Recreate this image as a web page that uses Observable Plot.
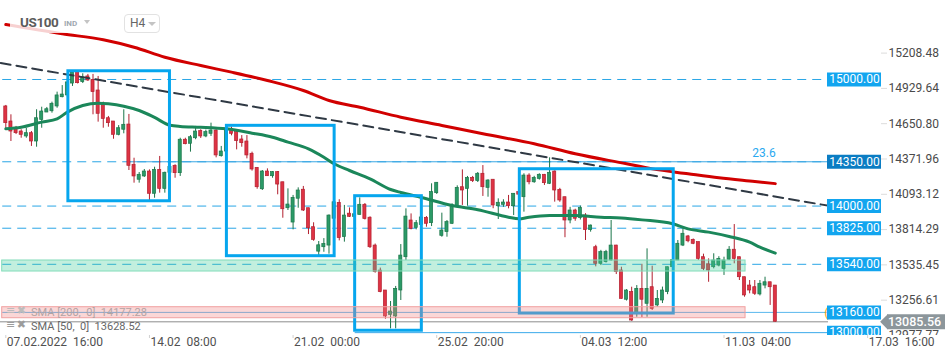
<!DOCTYPE html>
<html><head><meta charset="utf-8">
<script src="https://cdn.jsdelivr.net/npm/d3@7"></script>
<script src="https://cdn.jsdelivr.net/npm/@observablehq/plot@0.6"></script>
<style>
body{margin:0;background:#fff;font-family:Roboto,sans-serif;}
#wrap{position:relative;width:950px;height:360px;overflow:hidden;background:#fff;}
#wrap svg text{white-space:pre;}
.ov{position:absolute;font-family:Roboto,sans-serif;white-space:pre;}
.tri{position:absolute;width:0;height:0;border-left:4px solid transparent;border-right:4px solid transparent;border-top:4px solid #c4c4c4;}
</style></head>
<body><div id="wrap"></div>
<script>
// ---- candle data (H4, index 0 = 07.02.2022 16:00) ----
const open = [14787,14668,14615,14589,14550,14576,14510,14681,14739,14749,
14787,14860,14874,14968,15058,14979,15024,14997,14913,14800,
14694,14668,14563,14603,14644,14326,14208,14234,14273,14097,
14286,14136,14263,14318,14260,14524,14492,14536,14592,14550,
14571,14597,14394,14431,14610,14584,14526,14510,14413,14302,
14133,14273,14236,14268,14188,13983,13870,14058,14129,13983,
13833,13640,13675,13688,13900,14025,13755,13940,13915,13930,
14010,13908,13688,13490,13333,13140,13128,13333,13596,13886,
13828,13850,13907,13865,14102,13765,13794,13860,14000,14149,
14136,14223,14197,14255,14144,14208,13999,14010,14028,13999,
14110,14070,14241,14188,14215,14247,14176,14273,14128,14070,
13886,13965,13905,13925,13810,13675,13544,13557,13570,13688,
13491,13260,13320,13149,13346,13228,13359,13215,13254,13320,
13517,13570,13688,13760,13733,13715,13596,13540,13517,13530,
13504,13576,13655,13596,13438,13372,13359,13302,13372,13398,
13372];
const high = [14795,14721,14629,14603,14613,14589,14761,14781,14779,14821,
14900,14952,15008,15071,15071,15045,15040,15040,15024,14821,
14708,14668,14636,14761,14724,14378,14265,14289,14286,14307,
14392,14268,14330,14326,14536,14536,14557,14629,14603,14600,
14655,14603,14471,14640,14624,14590,14557,14557,14426,14302,
14281,14294,14273,14273,14188,14136,14084,14144,14155,13983,
13868,13720,13743,13930,14050,14050,14005,13985,13950,14065,
14020,13915,13700,13510,13333,13246,13365,13696,13978,13938,
13886,13930,13917,14176,14184,13944,13886,14018,14160,14286,
14234,14234,14265,14320,14208,14208,14057,14050,14084,14097,
14130,14255,14255,14235,14255,14250,14381,14278,14140,14070,
13990,13975,14000,13940,13850,13690,13650,13650,13886,13690,
13517,13340,13359,13372,13540,13662,13525,13333,13360,13517,
13600,13728,13820,13768,13740,13715,13620,13583,13623,13600,
13596,13680,13854,13596,13438,13412,13412,13412,13438,13398,
13372];
const low = [14597,14510,14565,14536,14536,14471,14465,14615,14739,14734,
14773,14855,14858,14945,14965,14968,14985,14721,14663,14615,
14623,14528,14555,14571,14281,14181,14181,14226,14044,14062,
14102,14102,14250,14220,14234,14484,14426,14524,14534,14540,
14550,14381,14387,14420,14555,14444,14465,14373,14276,14133,
14123,14236,14220,14089,13904,13965,13812,13983,13957,13775,
13722,13600,13635,13620,13870,13725,13715,13910,13895,13930,
13890,13665,13470,13315,13106,13030,13030,13254,13570,13812,
13812,13830,13833,13838,14092,13754,13754,13854,13990,14005,
13999,14186,14186,14076,14070,13979,13894,13990,13978,13925,
14070,13952,14168,14180,14205,14163,14170,14031,14030,13750,
13860,13880,13890,13728,13794,13520,13530,13550,13565,13459,
13265,13250,13090,13122,13120,13122,13175,13201,13230,13300,
13500,13570,13680,13710,13695,13570,13490,13398,13504,13520,
13452,13570,13544,13412,13280,13307,13294,13290,13346,13215,
13083];
const close = [14655,14589,14576,14563,14576,14510,14694,14747,14765,14808,
14874,14881,14977,15055,14971,15016,14992,14900,14729,14689,
14655,14563,14615,14642,14318,14234,14247,14273,14097,14286,
14136,14263,14310,14260,14524,14489,14544,14589,14550,14584,
14597,14400,14431,14600,14571,14513,14497,14400,14289,14149,
14273,14236,14268,14170,13975,14012,14065,14123,13965,13825,
13733,13690,13700,13925,14030,13747,13925,13915,13935,14010,
13898,13675,13478,13320,13128,13167,13346,13609,13917,13820,
13865,13910,13860,14110,14184,13807,13873,14005,14144,14123,
14223,14197,14255,14149,14202,14005,14026,14028,13999,14097,
14090,14241,14188,14223,14247,14181,14263,14123,14044,13886,
13965,13900,13985,13810,13846,13544,13636,13636,13688,13478,
13267,13333,13096,13346,13260,13346,13188,13267,13333,13517,
13575,13702,13781,13722,13702,13583,13504,13491,13570,13583,
13570,13655,13583,13438,13294,13333,13307,13386,13398,13359,
13086];

// ---- moving averages (candle index, value) ----
const sma50Idx = [0,3,7,10,12,15,18,20,23,26,29,32,34,38,43,48,52,55,59,62,64,67,71,75,77,81,87,92,98,100,102,106,111,116,120,124,130,133,137,141,145,147,150];
const sma50Val = [14610,14623,14663,14689,14742,14794,14813,14808,14789,14755,14700,14638,14629,14623,14610,14576,14544,14505,14452,14386,14334,14281,14215,14131,14107,14068,14004,13971,13912,13899,13912,13925,13925,13912,13906,13891,13860,13820,13794,13760,13715,13675,13628.52];
const sma200Idx = [0,11,19,25,31,38,44,51,58,63,69,77,85,93,103,111,121,126,133,139,146,150];
const sma200Val = [15434,15361,15314,15255,15176,15110,15058,14992,14913,14834,14781,14702,14637,14571,14492,14413,14334,14294,14255,14223,14194,14177.28];

// ---- trend line ----
const trendIdx = [-1, 166.6];
const trendVal = [15130, 13959];

// ---- horizontal levels ----
const dashedLevels = [15000, 14350, 14000, 13825, 13540];
const labelLevels = [15000, 14350, 14000, 13825, 13540, 13160, 13000];
const labelColors = ["#12a5ef","#0b7dc3","#12a5ef","#12a5ef","#12a5ef","#12a5ef","#12a5ef"];
const fibLevel = 14350, fibLabel = "23.6";
const lastPrice = 13085.56;

// ---- rectangles (boxes) ----
const boxX1 = [12.2, 43.1, 68.1, 100.2];
const boxX2 = [32.0, 64.1, 81.1, 130.2];
const boxTop = [15065, 14634, 14078, 14291];
const boxBottom = [14038, 13604, 13015, 13151];

// ---- zones ----
const bandX1 = [-0.7, -0.7];
const bandX2 = [144.2, 144.2];
const bandLow = [13483, 13114];
const bandHigh = [13570, 13201];
const bandFill = ["rgb(70,205,155)", "rgb(240,135,135)"];
const bandStroke = ["rgb(130,220,185)", "rgb(240,160,160)"];

// ---- axes ----
const yTicks = [15208.48, 14929.64, 14650.80, 14371.96, 14093.12, 13814.29, 13535.45, 13256.61, 12977.77];
const xTickIdx = [0, 28, 56, 84, 112, 140, 168];
const xTickLabels = ["07.02.2022  16:00","14.02  08:00","21.02  00:00","25.02  20:00","04.03  12:00","11.03  04:00","17.03  16:00"];

// ---- layout constants ----
const W = 950, H = 360, MB = 25;
const x0px = 5.3, stepPx = 5.13;
const xDomain = [-x0px / stepPx, (W - x0px) / stepPx];
const ptsPerPx = 7.9, yTopVal = 15624;
const yDomain = [yTopVal - (H - MB) * ptsPerPx, yTopVal];
const levelStart = -0.6, levelEnd = (828 - x0px) / stepPx, fibStart = 23.7, fibTextIdx = 147.8;

const UP_F = "#2b9a67", UP_S = "#1a7549", DN_F = "#de3344", DN_S = "#b21f2e";

const candles = open.map((o, i) => ({i, o, h: high[i], l: low[i], c: close[i], up: close[i] >= o}));
const sma50 = sma50Idx.map((i, k) => ({i, v: sma50Val[k]}));
const sma200 = sma200Idx.map((i, k) => ({i, v: sma200Val[k]}));
const trend = trendIdx.map((i, k) => ({i, v: trendVal[k]}));
const boxes = boxX1.map((x, k) => ({x1: x, x2: boxX2[k], y1: boxBottom[k], y2: boxTop[k]}));
const bands = bandX1.map((x, k) => ({x1: x, x2: bandX2[k], y1: bandLow[k], y2: bandHigh[k], f: bandFill[k], s: bandStroke[k]}));
const labels = labelLevels.map((v, k) => ({v, col: labelColors[k]}));

const chart = Plot.plot({
  width: W, height: H,
  marginTop: 0, marginRight: 0, marginBottom: MB, marginLeft: 0,
  x: {domain: xDomain, axis: null},
  y: {domain: yDomain, axis: null},
  style: {fontFamily: "Roboto, sans-serif", fontSize: "12px", background: "white", overflow: "visible"},
  marks: [
    Plot.ruleY(dashedLevels, {y: d => d, x1: () => levelStart, x2: () => levelEnd, stroke: "#2aa6e6", strokeDasharray: "9,6"}),
    Plot.ruleY([13160], {y: d => d, x1: () => levelStart, x2: () => levelEnd, stroke: "#5ab8ee"}),
    Plot.ruleY([13000], {y: d => d, x1: () => boxX1[2], x2: () => levelEnd, stroke: "#3aa9ea"}),
    Plot.ruleY([fibLevel], {y: d => d, x1: () => fibStart, x2: () => levelEnd, stroke: "#3ba7e3"}),
    Plot.ruleY([lastPrice], {y: d => d, x1: () => xDomain[0], x2: () => levelEnd, stroke: "#8c8c8c"}),
    Plot.ruleX(candles, {x: "i", y1: "l", y2: "h", stroke: d => d.up ? UP_S : DN_S, strokeWidth: 1}),
    Plot.rect(candles, {x1: d => d.i - 0.3, x2: d => d.i + 0.3, y1: "o",
      y2: d => Math.abs(d.c - d.o) < 8 ? d.o + (d.up ? 8 : -8) : d.c,
      fill: d => d.up ? UP_F : DN_F, stroke: d => d.up ? UP_S : DN_S, strokeWidth: 0.7}),
    Plot.line(sma200, {x: "i", y: "v", stroke: "#d10000", strokeWidth: 3, curve: "monotone-x"}),
    Plot.line(sma50, {x: "i", y: "v", stroke: "#1b875a", strokeWidth: 3, curve: "monotone-x"}),
    Plot.line(trend, {x: "i", y: "v", stroke: "#2f3944", strokeWidth: 2, strokeDasharray: "10,6"}),
    Plot.rect(boxes, {x1: "x1", x2: "x2", y1: "y1", y2: "y2", fill: "none", stroke: "#06a6ee", strokeWidth: 3}),
    Plot.rect(bands, {x1: "x1", x2: "x2", y1: "y1", y2: "y2", fill: "f", fillOpacity: 0.33, stroke: "s", strokeWidth: 1}),
    Plot.text([fibLevel], {x: () => fibTextIdx, y: d => d, text: () => fibLabel, dy: -9, fill: "#2aa9f0", fontSize: 12}),
    Plot.text(["("], {y: () => 13160, text: d => d, frameAnchor: "right", dx: -124, textAnchor: "middle", fill: "#f5a623", fontSize: 13}),
    Plot.tickY(yTicks, {y: d => d, insetLeft: 881, insetRight: 63, stroke: "#dcdcdc", clip: true}),
    Plot.text(yTicks, {y: d => d, text: d => d.toFixed(2), frameAnchor: "right", dx: -62, textAnchor: "start", fill: "#4a4a4a", fontSize: 12, clip: true}),
    Plot.tickY(labels, {y: "v", stroke: "col", strokeWidth: 14, insetLeft: 827, insetRight: 69, clip: true}),
    Plot.text(labels, {y: "v", text: d => d.v.toFixed(2), frameAnchor: "right", dx: -96, textAnchor: "middle", fill: "white", fontSize: 12, clip: true}),
    Plot.tickY([lastPrice], {y: d => d, stroke: "#8c969b", strokeWidth: 15, insetLeft: 887, insetRight: 5}),
    Plot.dot([lastPrice], {y: d => d, frameAnchor: "right", dx: -63, symbol: "square", rotate: 45, r: 5.9, fill: "#8c969b", stroke: "none"}),
    Plot.text([lastPrice], {y: d => d, text: d => d.toFixed(2), frameAnchor: "right", dx: -36, textAnchor: "middle", fill: "white", fontSize: 12.5, fontWeight: 500}),
    Plot.tickX(xTickIdx, {x: d => d, insetTop: H - MB - 3, dy: 3, stroke: "#d0d0d0"}),
    Plot.text(xTickIdx, {x: d => d, text: (d, k) => xTickLabels[k], frameAnchor: "bottom", textAnchor: "start", lineAnchor: "middle", dy: 7, dx: 1, fill: "#505050", fontSize: 12})
  ]
});
const wrap = document.getElementById("wrap");
wrap.appendChild(chart);

// ---- overlay texts (header and indicator legend) ----
function ov(html, css) { const d = document.createElement("div"); d.className = "ov"; d.style.cssText = css; d.innerHTML = html; wrap.appendChild(d); return d; }
ov("", "left:10px;top:9px;width:84px;height:24px;background:rgba(255,255,255,0.82);");
ov("US100", "left:20px;top:14px;font-size:13.5px;font-weight:700;color:#5c5c5c;letter-spacing:-0.4px;line-height:16px;");
ov("IND", "left:64px;top:19px;font-size:8px;font-weight:700;color:#a0a8b0;line-height:10px;");
ov('<div class="tri" style="left:0;top:0;border-left-width:3.5px;border-right-width:3.5px;"></div>', "left:84px;top:20px;width:8px;height:5px;");
ov("", "left:124px;top:14px;width:34px;height:17px;border:1px solid #e2e2e2;border-radius:4px;background:#fff;");
ov("H4", "left:130px;top:16px;font-size:12px;color:#666;line-height:14px;");
ov('<div class="tri" style="left:0;top:0;"></div>', "left:148px;top:22px;width:8px;height:5px;");
ov("≡ ✖", "left:6px;top:304px;font-size:11px;color:#bcbcbc;line-height:13px;font-family:'DejaVu Sans',sans-serif;letter-spacing:-1px;");
ov("SMA [200,  0]  14177.28", "left:31px;top:306px;font-size:11px;color:#b3a4a4;line-height:13px;");
ov("≡ ✖", "left:6px;top:318px;font-size:11px;color:#9c9c9c;line-height:13px;font-family:'DejaVu Sans',sans-serif;letter-spacing:-1px;");
ov("SMA [50,  0]  13628.52", "left:31px;top:320px;font-size:11px;color:#666;line-height:13px;");
</script>
</body></html>
